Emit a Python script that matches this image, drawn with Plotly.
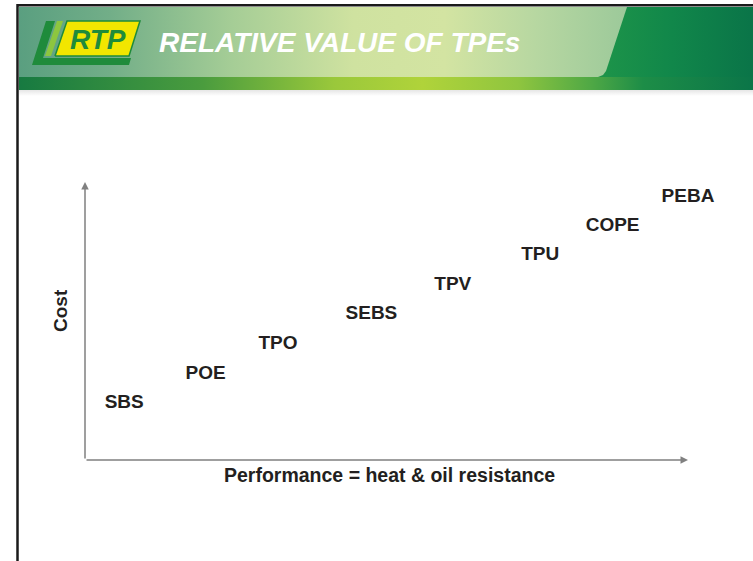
import plotly.graph_objects as go

# ---- data ----
materials = ["SBS", "POE", "TPO", "SEBS", "TPV", "TPU", "COPE", "PEBA"]
performance = [0.65, 2.0, 3.2, 4.75, 6.1, 7.55, 8.75, 10.0]
cost = [2.05, 3.1, 4.15, 5.25, 6.3, 7.35, 8.4, 9.45]
x_title = "Performance = heat & oil resistance"
y_title = "Cost"
chart_title = "RELATIVE VALUE OF TPEs"
logo_text = "RTP"

W, H = 753, 561
FONT = "Liberation Sans, Arial, Helvetica, sans-serif"
TXT = "#231f20"
AX = "#808080"

fig = go.Figure()

def poly(pts, color=None, grad=None, line=None):
    xs = [p[0] for p in pts] + [pts[0][0]]
    ys = [p[1] for p in pts] + [pts[0][1]]
    kw = dict(x=xs, y=ys, mode="lines", fill="toself", xaxis="x2", yaxis="y2",
              hoverinfo="skip", showlegend=False,
              line=dict(width=0, color="rgba(0,0,0,0)") if line is None else line)
    if grad is not None:
        kw["fillgradient"] = grad
    else:
        kw["fillcolor"] = color
    fig.add_trace(go.Scatter(**kw))

# ---- header decoration (pixel coordinates on background axes) ----
poly([(590, 7), (753, 7), (753, 78), (590, 78)],
     grad=dict(type="horizontal", colorscale=[[0, "#1f9649"], [0.5, "#11874a"], [1, "#0a7448"]]))
poly([(19, 7), (627, 7), (606, 71), (603, 75), (598, 77), (19, 77)],
     grad=dict(type="horizontal", colorscale=[
         [0, "#5a9f80"], [0.15, "#72ae88"], [0.35, "#a5cd96"], [0.55, "#cfe2a0"],
         [0.7, "#d3e4a2"], [0.85, "#b7d7a1"], [1, "#9cc99a"]]))
poly([(19, 77), (753, 77), (753, 90), (19, 90)],
     grad=dict(type="horizontal", colorscale=[
         [0, "#177a41"], [0.25, "#4a9c3e"], [0.43, "#9ac83b"], [0.55, "#b0d33a"],
         [0.68, "#8fc53f"], [0.78, "#4fa845"], [0.85, "#1d8d47"], [1, "#0b7548"]]))
poly([(19, 90), (753, 90), (753, 96), (19, 96)],
     grad=dict(type="vertical", colorscale=[[0, "#ffffff"], [1, "#e6e6e6"]]))

# logo
poly([(32, 65), (46, 21), (55, 21), (43, 58), (131, 58), (129, 65)], color="#1f8b3b")
poly([(45, 56), (57, 21), (63, 21), (51, 56)], color="#8dc63f")
poly([(55, 56), (67, 21), (140, 21), (129, 56)], color="#f2e600",
     line=dict(width=1.5, color="#1f8b3b"))

# ---- main chart: labels placed via data axes ----
fig.add_trace(go.Scatter(
    x=performance, y=cost, mode="text", text=[f"<b>{m}</b>" for m in materials],
    textposition="middle center", cliponaxis=False,
    textfont=dict(family=FONT, size=19, color=TXT),
    hoverinfo="skip", showlegend=False))

annotations = [
    dict(x=10, y=0, ax=0, ay=0, xref="x", yref="y", axref="x", ayref="y", text="",
         showarrow=True, arrowhead=2, arrowsize=1, arrowwidth=1.5, arrowcolor=AX),
    dict(x=0, y=10, ax=0, ay=0, xref="x", yref="y", axref="x", ayref="y", text="",
         showarrow=True, arrowhead=2, arrowsize=1, arrowwidth=1.5, arrowcolor=AX),
    dict(x=389, y=475, xref="x2", yref="y2", text=f"<b>{x_title}</b>", showarrow=False,
         font=dict(family=FONT, size=19.5, color=TXT), xanchor="center", yanchor="middle"),
    dict(x=60, y=311, xref="x2", yref="y2", text=f"<b>{y_title}</b>", showarrow=False,
         textangle=-90, font=dict(family=FONT, size=19, color=TXT),
         xanchor="center", yanchor="middle"),
    dict(x=157, y=42, xref="x2", yref="y2", text=f"<b><i>{chart_title}</i></b>", showarrow=False,
         font=dict(family=FONT, size=28, color="#ffffff"), xanchor="left", yanchor="middle"),
    dict(x=98, y=39, xref="x2", yref="y2", text=f"<b><i>{logo_text}</i></b>", showarrow=False,
         font=dict(family=FONT, size=28, color="#1f8b3b"), xanchor="center", yanchor="middle"),
]

shapes = [
    dict(type="line", xref="x2", yref="y2", x0=17.5, x1=17.5, y0=4, y1=561,
         line=dict(color="#1a1a1a", width=2.5)),
    dict(type="line", xref="x2", yref="y2", x0=17, x1=753, y0=5.3, y1=5.3,
         line=dict(color="#1a1a1a", width=2.5)),
]

fig.update_layout(
    width=W, height=H, margin=dict(l=0, r=0, t=0, b=0),
    paper_bgcolor="white", plot_bgcolor="rgba(0,0,0,0)",
    showlegend=False,
    xaxis=dict(domain=[85 / W, 688 / W], range=[0, 10], visible=False, fixedrange=True),
    yaxis=dict(domain=[(H - 460) / H, (H - 182) / H], range=[0, 10], visible=False, fixedrange=True),
    xaxis2=dict(domain=[0, 1], range=[0, W], visible=False, fixedrange=True, anchor="y2"),
    yaxis2=dict(domain=[0, 1], range=[H, 0], visible=False, fixedrange=True, anchor="x2"),
    annotations=annotations, shapes=shapes,
)

fig.write_html("out.html", config={"displayModeBar": False},
               post_script="document.body.style.margin='0';document.body.style.overflow='hidden';")
